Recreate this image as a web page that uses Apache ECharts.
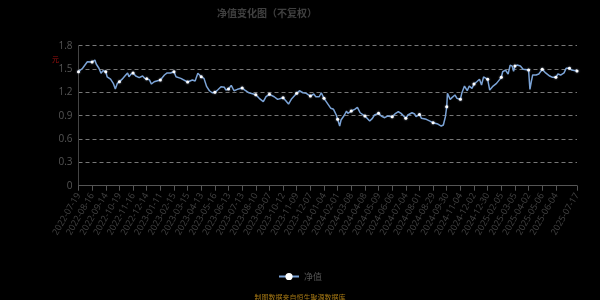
<!DOCTYPE html>
<html>
<head>
<meta charset="utf-8">
<script src="https://cdn.jsdelivr.net/npm/echarts@6/dist/echarts.min.js"></script>
<style>html,body{margin:0;padding:0;background:#000;}#c{width:600px;height:300px;}</style>
</head>
<body>
<div id="c"></div>
<script>
// ---- data ----
const firstDate = '2022-07-19';
const lastDate = '2025-07-17';
// exchange closures on weekdays
const closedDays = ['2022-09-12','2022-10-03','2022-10-04','2022-10-05','2022-10-06','2022-10-07',
  '2023-01-02','2023-01-23','2023-01-24','2023-01-25','2023-01-26','2023-01-27','2023-04-05',
  '2023-05-01','2023-05-02','2023-05-03','2023-06-22','2023-06-23','2023-09-29',
  '2023-10-02','2023-10-03','2023-10-04','2023-10-05','2023-10-06',
  '2024-01-01','2024-02-09','2024-02-12','2024-02-13','2024-02-14','2024-02-15','2024-02-16',
  '2024-04-04','2024-04-05','2024-05-01','2024-05-02','2024-05-03','2024-06-10',
  '2024-09-16','2024-09-17','2024-10-01','2024-10-02','2024-10-03','2024-10-04','2024-10-07',
  '2025-01-01','2025-01-28','2025-01-29','2025-01-30','2025-01-31','2025-02-03','2025-02-04',
  '2025-04-04','2025-05-01','2025-05-02','2025-05-05','2025-06-02'];
// period-end NAV dates published on weekends
const extraNavDates = ['2022-12-31','2023-09-30','2023-12-31','2024-03-31','2024-06-30'];
// [trading-day number, NAV]
const navReadings = [
  [0,1.465],[6,1.51],[13,1.594],[20,1.59],[24,1.616],[26,1.565],[30,1.51],[33,1.445],[36,1.48],
  [40,1.465],[42,1.40],[47,1.37],[51,1.316],[54,1.243],[57,1.316],[60,1.337],[64,1.37],[68,1.41],
  [72,1.45],[74,1.40],[77,1.435],[80,1.45],[84,1.41],[89,1.39],[94,1.41],[97,1.38],[100,1.375],
  [104,1.36],[107,1.307],[111,1.337],[116,1.35],[120,1.359],[126,1.423],[130,1.45],[135,1.45],
  [140,1.465],[143,1.40],[150,1.38],[160,1.333],[167,1.359],[171,1.346],[175,1.445],[180,1.40],
  [184,1.38],[188,1.273],[192,1.221],[196,1.195],[200,1.20],[204,1.23],[209,1.273],[214,1.265],
  [216,1.23],[220,1.243],[224,1.29],[228,1.221],[233,1.239],[240,1.256],[244,1.23],[250,1.195],
  [260,1.17],[265,1.123],[271,1.08],[275,1.144],[280,1.175],[287,1.144],[292,1.11],[300,1.131],
  [304,1.093],[308,1.05],[312,1.11],[320,1.188],[324,1.221],[329,1.195],[334,1.188],[340,1.153],
  [345,1.179],[348,1.144],[353,1.144],[356,1.195],[360,1.123],[365,1.059],[370,0.995],[374,0.982],
  [378,0.909],[380,0.853],[383,0.767],[385,0.845],[390,0.909],[393,0.96],[395,0.93],[400,0.96],
  [405,0.982],[409,1.008],[413,0.938],[420,0.896],[427,0.832],[431,0.866],[434,0.909],[440,0.93],
  [444,0.896],[449,0.874],[453,0.896],[460,0.887],[464,0.922],[469,0.951],[473,0.93],[480,0.866],
  [483,0.909],[489,0.938],[493,0.922],[495,0.887],[500,0.917],[503,0.866],[510,0.853],[520,0.81],
  [527,0.793],[532,0.767],[535,0.78],[538,0.887],[540,1.015],[541,1.188],[545,1.11],[548,1.136],
  [552,1.166],[555,1.123],[560,1.11],[562,1.188],[566,1.281],[570,1.221],[573,1.281],[577,1.252],
  [580,1.307],[584,1.337],[588,1.368],[591,1.294],[594,1.40],[600,1.368],[603,1.23],[604,1.208],
  [608,1.281],[613,1.316],[620,1.393],[622,1.465],[626,1.487],[630,1.436],[633,1.551],[636,1.538],
  [638,1.47],[640,1.538],[643,1.551],[648,1.538],[652,1.496],[660,1.487],[662,1.239],[664,1.337],
  [666,1.423],[671,1.423],[675,1.436],[680,1.496],[685,1.45],[691,1.41],[695,1.393],[700,1.393],
  [703,1.436],[707,1.423],[712,1.45],[715,1.509],[720,1.509],[723,1.487],[731,1.474]
];
const yTicks = {min: 0, max: 1.8, interval: 0.3};
const titleText = '净值变化图（不复权）';
const seriesName = '净值';
const unitText = '元';
const sourceText = '制图数据来自恒生聚源数据库';

// ---- build categories ----
function fmt(d){
  const m = d.getUTCMonth()+1, dd = d.getUTCDate();
  return d.getUTCFullYear()+'-'+(m<10?'0':'')+m+'-'+(dd<10?'0':'')+dd;
}
const closedSet = new Set(closedDays), extraSet = new Set(extraNavDates);
const dates = [];
for (let d = new Date(firstDate+'T00:00:00Z'); fmt(d) <= lastDate; d.setUTCDate(d.getUTCDate()+1)) {
  const s = fmt(d), wd = d.getUTCDay();
  if ((wd !== 0 && wd !== 6 && !closedSet.has(s)) || extraSet.has(s)) dates.push(s);
}
const navData = dates.map(() => null);
navReadings.forEach(([i, v]) => { if (i < navData.length) navData[i] = v; });

// ---- chart ----
const chart = echarts.init(document.getElementById('c'), null, {renderer: 'canvas'});
chart.setOption({
  backgroundColor: '#000',
  animation: false,
  title: [
    {text: titleText, left: 212, top: 3,
     textStyle: {color: '#404040', fontSize: 10, fontWeight: 'bold', fontFamily: 'Noto Sans CJK SC'}},
    {text: sourceText, left: 'center', top: 289,
     textStyle: {color: '#a87a14', fontSize: 7, fontWeight: 'normal', fontFamily: 'Noto Sans CJK SC'}}
  ],
  graphic: [{type: 'text', left: 52, top: 56,
    style: {text: unitText, fill: '#a01010', fontSize: 7, fontFamily: 'Noto Sans CJK SC'}}],
  legend: {
    bottom: 14, left: 'center', itemWidth: 20, itemHeight: 9,
    textStyle: {color: '#555', fontSize: 9, fontFamily: 'Noto Sans CJK SC'},
    data: [seriesName]
  },
  grid: {left: 78.5, right: 23, top: 45.7, bottom: 114.3, containLabel: false},
  xAxis: {
    type: 'category', boundaryGap: false, data: dates,
    axisLine: {lineStyle: {color: '#555'}},
    axisTick: {lineStyle: {color: '#555'}},
    axisLabel: {color: '#444', fontSize: 9, rotate: 60, showMaxLabel: true, fontFamily: 'Open Sans'}
  },
  yAxis: {
    type: 'value', min: yTicks.min, max: yTicks.max, interval: yTicks.interval,
    axisLine: {show: true, lineStyle: {color: '#444'}},
    axisTick: {show: false},
    axisLabel: {color: '#555', fontSize: 10, fontFamily: 'Open Sans', margin: 6},
    splitLine: {lineStyle: {color: '#777', type: [4, 3]}}
  },
  series: [{
    name: seriesName, type: 'line', data: navData, connectNulls: true,
    symbol: 'circle', symbolSize: 3,
    lineStyle: {color: '#7ba3d6', width: 1.5},
    itemStyle: {color: '#ffffff', borderColor: '#ffffff', borderWidth: 0, shadowBlur: 2, shadowColor: 'rgba(200,220,255,0.8)'}
  }]
});
</script>
</body>
</html>
